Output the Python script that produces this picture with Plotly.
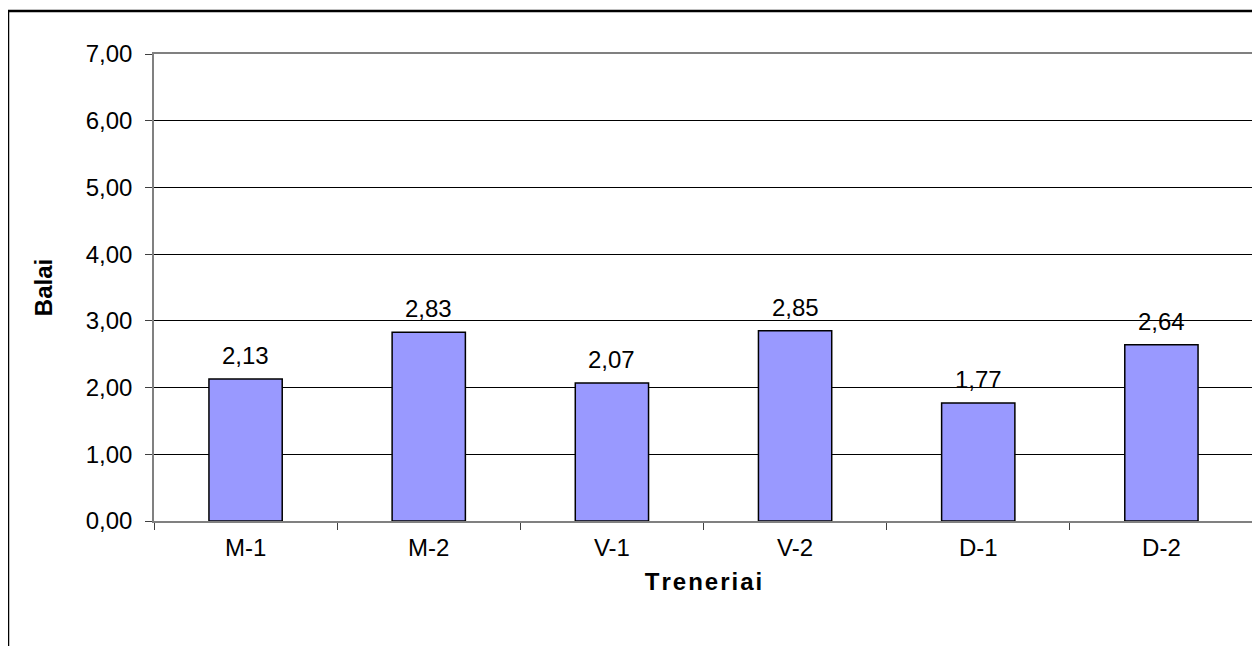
import plotly.graph_objects as go

categories = ["M-1", "M-2", "V-1", "V-2", "D-1", "D-2"]
values = [2.13, 2.83, 2.07, 2.85, 1.77, 2.64]
value_labels = ["2,13", "2,83", "2,07", "2,85", "1,77", "2,64"]
y_ticks = [0, 1, 2, 3, 4, 5, 6, 7]
y_tick_labels = ["0,00", "1,00", "2,00", "3,00", "4,00", "5,00", "6,00", "7,00"]

FONT = "Liberation Sans, Arial, sans-serif"
FS = 24

# page body has an 8px margin; plot area target (page px): x 154..1253, y 54..521
L, R, T, B = 146, 1245, 46, 513
W, H = 1260, 646
pw, ph = R - L, B - T

fig = go.Figure(go.Bar(
    x=categories, y=values,
    marker=dict(color="#9999FF", line=dict(color="black", width=1.5)),
    width=0.4,
))

annotations = [
    dict(x=c, y=v, text=t, xref="x", yref="y", showarrow=False,
         yanchor="bottom", yshift=8, font=dict(size=FS, color="black", family=FONT))
    for c, v, t in zip(categories, values, value_labels)
]

fig.update_layout(
    width=W, height=H,
    margin=dict(l=L, r=W - R, t=T, b=H - B),
    paper_bgcolor="white", plot_bgcolor="white",
    font=dict(family=FONT, size=FS, color="black"),
    showlegend=False,
    annotations=annotations,
    xaxis=dict(
        showline=True, linecolor="#808080", linewidth=1.5, mirror=True,
        ticks="outside", ticklen=7, tickcolor="#404040", tickson="boundaries",
        tickfont=dict(size=FS), showgrid=False, ticklabelstandoff=4,
        title=dict(text="<b>T r e n e r i a i</b>".replace(" ", "\u200a"), font=dict(size=FS), standoff=14),
    ),
    yaxis=dict(
        range=[0, 7], tickvals=y_ticks, ticktext=y_tick_labels,
        showline=True, linecolor="#808080", linewidth=1.5, mirror=True,
        ticks="outside", ticklen=7, tickcolor="#404040",
        showgrid=True, gridcolor="black", gridwidth=1, zeroline=False,
        tickfont=dict(size=FS), ticklabelstandoff=8,
        title=dict(text="<b>Balai</b>", font=dict(size=FS), standoff=26),
    ),
    shapes=[dict(type="rect", xref="paper", yref="paper",
                 x0=(0 - L) / pw, x1=1.2, y0=-0.6, y1=(B - 3) / ph,
                 line=dict(color="black", width=2.5), fillcolor="rgba(0,0,0,0)", layer="above")],
)

fig.write_html("out.html")
